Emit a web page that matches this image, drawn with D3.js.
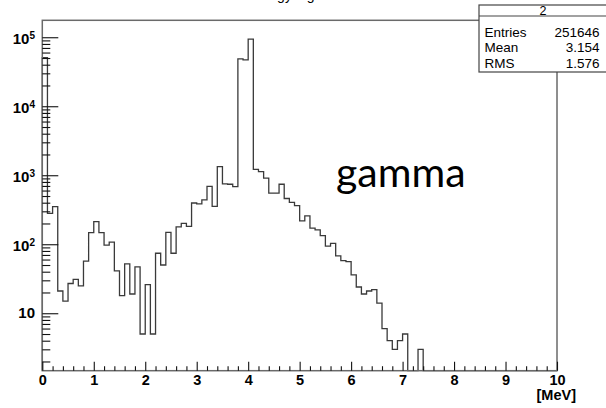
<!DOCTYPE html>
<html>
<head>
<meta charset="utf-8">
<script src="https://cdn.jsdelivr.net/npm/d3@7"></script>
<style>
  body { margin: 0; background: #fff; }
  svg { display: block; }
</style>
</head>
<body>
<script>
// histogram: 100 bins of 0.1 MeV from 0 to 10, log y
const title = "Energy log";
const xMin = 0;
const xMax = 10;
const xTitle = "[MeV]";
const counts = [
  50600, 281, 351, 21, 15, 27, 31, 25, 57, 147,
  213, 147, 97, 107, 41, 18, 52, 19, 47, 5,
  26, 5, 74, 50, 149, 74, 178, 200, 182, 396,
  384, 439, 690, 355, 1334, 748, 740, 684, 48500, 46900,
  93600, 1220, 1130, 910, 549, 549, 741, 460, 405, 363,
  218, 257, 171, 161, 133, 94, 103, 68, 58, 56,
  36, 24, 19, 21, 22, 14, 6, 4, 3, 4,
  5, 0, 0, 3, 0, 0, 0, 0, 0, 0,
  0, 0, 0, 0, 0, 0, 0, 0, 0, 0,
  0, 0, 0, 0, 0, 0, 0, 0, 0, 0
];
const xTickValues = [0, 1, 2, 3, 4, 5, 6, 7, 8, 9, 10];
const yTickValues = [10, 100, 1000, 10000, 100000];
const yTickExps = ["", "2", "3", "4", "5"];
const statsName = "2";
const statsLabels = ["Entries", "Mean", "RMS"];
const statsValues = ["251646", "3.154", "1.576"];
const annotation = "gamma";

const w = 606;
const h = 408;
const frame = { left: 42.3, right: 557, top: 20.3, bottom: 370.7 };
const yMin = 1.47;
const yMax = 1.76e5;

const xScale = d3.scaleLinear().domain([xMin, xMax]).range([frame.left, frame.right]);
const yScale = d3.scaleLog().domain([yMin, yMax]).range([frame.bottom, frame.top]).clamp(true);

const svg = d3.select("body").append("svg").attr("width", w).attr("height", h);

// title, mostly above the picture (cut off in the original too)
svg.append("text")
  .attr("x", 281)
  .attr("y", -0.5)
  .attr("text-anchor", "middle")
  .attr("font-family", "Liberation Sans, Arial, sans-serif")
  .attr("font-size", "14px")
  .text(title);

// histogram outline
const binWidth = (xMax - xMin) / counts.length;
const pts = [[xMin, 0]];
counts.forEach(function (c, i) {
  pts.push([xMin + i * binWidth, c]);
  pts.push([xMin + (i + 1) * binWidth, c]);
});
pts.push([xMax, 0]);

const line = d3.line()
  .x(function (d) { return xScale(d[0]); })
  .y(function (d) { return yScale(Math.max(d[1], yMin)); });

svg.append("path")
  .datum(pts)
  .attr("d", line)
  .attr("fill", "none")
  .attr("stroke", "#3a3a3a")
  .attr("stroke-width", 1.3);

// frame
svg.append("rect")
  .attr("x", frame.left)
  .attr("y", frame.top)
  .attr("width", frame.right - frame.left)
  .attr("height", frame.bottom - frame.top)
  .attr("fill", "none")
  .attr("stroke", "#6a6a6a")
  .attr("stroke-width", 1.5);

// x axis
const minorX = d3.range(1, 50).map(function (i) { return i * 0.2; })
  .filter(function (v) { return Math.abs(v - Math.round(v)) > 1e-6; });

svg.append("g")
  .attr("transform", "translate(0," + frame.bottom + ")")
  .call(d3.axisBottom(xScale).tickValues(minorX).tickSizeInner(-4.5).tickSizeOuter(0).tickFormat(""));

const gx = svg.append("g")
  .attr("transform", "translate(0," + frame.bottom + ")")
  .call(d3.axisBottom(xScale).tickValues(xTickValues).tickSizeInner(-9).tickSizeOuter(0).tickPadding(4)
    .tickFormat(d3.format("d")));

gx.selectAll("text")
  .attr("font-family", "Liberation Sans, Arial, sans-serif")
  .attr("font-weight", "bold")
  .attr("font-size", "14.5px")
  .attr("fill", "#000");

svg.append("text")
  .attr("x", 576)
  .attr("y", 400)
  .attr("text-anchor", "end")
  .attr("font-family", "Liberation Sans, Arial, sans-serif")
  .attr("font-weight", "bold")
  .attr("font-size", "14.5px")
  .text(xTitle);

// y axis
const minorY = [];
for (let p = 0; p <= 5; p++) {
  for (let m = 2; m <= 9; m++) {
    const v = m * Math.pow(10, p);
    if (v > yMin && v < yMax) minorY.push(v);
  }
}

svg.append("g")
  .attr("transform", "translate(" + frame.left + ",0)")
  .call(d3.axisLeft(yScale).tickValues(minorY).tickSizeInner(-8).tickSizeOuter(0).tickFormat(""));

svg.append("g")
  .attr("transform", "translate(" + frame.left + ",0)")
  .call(d3.axisLeft(yScale).tickValues(yTickValues).tickSizeInner(-16).tickSizeOuter(0).tickFormat(""));

svg.selectAll(".domain").remove();
svg.selectAll(".tick line").attr("stroke", "#111").attr("stroke-width", 1.1);

const yLabels = svg.append("g")
  .attr("font-family", "Liberation Sans, Arial, sans-serif")
  .attr("font-weight", "bold")
  .attr("text-anchor", "end");

yTickValues.forEach(function (v, i) {
  const t = yLabels.append("text")
    .attr("x", 35)
    .attr("y", yScale(v) + (yTickExps[i] ? 7 : 5))
    .attr("font-size", "15px");
  t.append("tspan").text("10");
  if (yTickExps[i]) {
    t.append("tspan")
      .attr("font-size", "10px")
      .attr("dy", -5)
      .text(yTickExps[i]);
  }
});

// annotation
svg.append("text")
  .attr("x", 336)
  .attr("y", 187)
  .attr("font-family", "Lato, sans-serif")
  .attr("font-size", "41px")
  .text(annotation);

// stats box
const sb = svg.append("g").attr("font-family", "Liberation Sans, Arial, sans-serif");
sb.append("rect")
  .attr("x", 479)
  .attr("y", 5)
  .attr("width", 140)
  .attr("height", 67)
  .attr("fill", "#fff")
  .attr("stroke", "#444")
  .attr("stroke-width", 1.2);
sb.append("line")
  .attr("x1", 479).attr("x2", 606)
  .attr("y1", 16).attr("y2", 16)
  .attr("stroke", "#444")
  .attr("stroke-width", 1.2);
sb.append("text")
  .attr("x", 543)
  .attr("y", 14.5)
  .attr("text-anchor", "middle")
  .attr("font-size", "12.5px")
  .text(statsName);

sb.selectAll("text.lab")
  .data(statsLabels)
  .enter()
  .append("text")
  .attr("class", "lab")
  .attr("x", 484.5)
  .attr("y", function (d, i) { return 36.5 + i * 15.5; })
  .attr("font-size", "13.5px")
  .text(function (d) { return d; });

sb.selectAll("text.val")
  .data(statsValues)
  .enter()
  .append("text")
  .attr("class", "val")
  .attr("x", 599.5)
  .attr("y", function (d, i) { return 36.5 + i * 15.5; })
  .attr("text-anchor", "end")
  .attr("font-size", "13.5px")
  .text(function (d) { return d; });
</script>
</body>
</html>
